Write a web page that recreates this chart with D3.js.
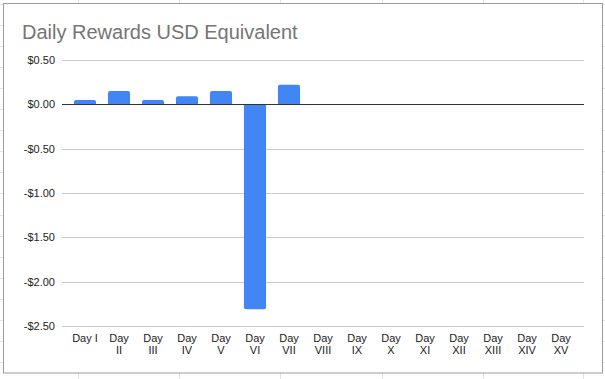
<!DOCTYPE html>
<html><head><meta charset="utf-8">
<script src="https://cdn.jsdelivr.net/npm/d3@7"></script>
<style>body{margin:0;background:#fff}svg{display:block}</style>
</head><body>
<svg id="c" width="605" height="379"></svg>
<script>
const categories = ["Day I","Day II","Day III","Day IV","Day V","Day VI","Day VII","Day VIII","Day IX","Day X","Day XI","Day XII","Day XIII","Day XIV","Day XV"];
const values = [0.05,0.15,0.05,0.09,0.15,-2.31,0.22,null,null,null,null,null,null,null,null];
const yTicks = [0.5,0,-0.5,-1,-1.5,-2,-2.5];
const title = "Daily Rewards USD Equivalent";

const svg = d3.select("#c");
const W = 605, H = 379;
const font = "'Liberation Sans', Arial, sans-serif";

// spreadsheet background grid
const sheetCols = [78,179,280,382,483,583];
const sheetRows = d3.range(4, 380, 21.05);
svg.append("g").selectAll("line.v").data(sheetCols).join("line")
  .attr("x1",d=>d+0.5).attr("x2",d=>d+0.5).attr("y1",0).attr("y2",H)
  .attr("stroke","#e2e2e2");
svg.append("g").selectAll("line.h").data(sheetRows).join("line")
  .attr("x1",0).attr("x2",W).attr("y1",d=>Math.round(d)+0.5).attr("y2",d=>Math.round(d)+0.5)
  .attr("stroke","#e2e2e2");

// chart frame
svg.append("rect").attr("x",3.5).attr("y",3.5).attr("width",599).attr("height",369.5)
  .attr("fill","#fff").attr("stroke","#9a9a9a");

svg.append("text").attr("x",22).attr("y",39).text(title)
  .attr("font-family",font).attr("font-size",20).attr("fill","#757575");

const x = d3.scaleBand().domain(categories).range([68,578]).paddingInner(0.35).paddingOuter(0.175);
const y = d3.scaleLinear().domain([-2.5,0.5]).range([326,60]);
const gx0 = 62, gx1 = 584;

// gridlines
svg.append("g").selectAll("line").data(yTicks.filter(d=>d!==0)).join("line")
  .attr("x1",gx0).attr("x2",gx1)
  .attr("y1",d=>Math.round(y(d))+0.5).attr("y2",d=>Math.round(y(d))+0.5)
  .attr("stroke","#cccccc");

// y labels
const fmt = d => (d<0?"-":"")+"$"+Math.abs(d).toFixed(2);
svg.append("g").selectAll("text").data(yTicks).join("text")
  .attr("x",55).attr("y",d=>y(d)+4).attr("text-anchor","end")
  .attr("font-family",font).attr("font-size",11).attr("fill","#222")
  .text(fmt);

// bars
const data = categories.map((c,i)=>({c, v: values[i]})).filter(d=>d.v!==null);
svg.append("g").selectAll("path").data(data).join("path")
  .attr("fill","#4285f4")
  .attr("d", d=>{
    const x0 = x(d.c), w = x.bandwidth();
    const y0 = y(0), y1 = y(d.v), r = 2;
    if (d.v >= 0) {
      return `M${x0},${y0}V${y1+r}Q${x0},${y1} ${x0+r},${y1}H${x0+w-r}Q${x0+w},${y1} ${x0+w},${y1+r}V${y0}Z`;
    } else {
      return `M${x0},${y0}V${y1-r}Q${x0},${y1} ${x0+r},${y1}H${x0+w-r}Q${x0+w},${y1} ${x0+w},${y1-r}V${y0}Z`;
    }
  });

// zero line
svg.append("line").attr("x1",gx0).attr("x2",gx1)
  .attr("y1",Math.round(y(0))+0.5).attr("y2",Math.round(y(0))+0.5)
  .attr("stroke","#333").attr("stroke-width",1);

// x labels
const xl = svg.append("g");
categories.forEach(c=>{
  const cx = x(c) + x.bandwidth()/2;
  const t = xl.append("text").attr("x",cx).attr("y",342).attr("text-anchor","middle")
    .attr("font-family",font).attr("font-size",11).attr("fill","#222").text(c);
  if (t.node().getComputedTextLength() > 27) {
    const parts = c.split(" ");
    t.text(null);
    parts.forEach((p,i)=>{
      t.append("tspan").attr("x",cx).attr("y",342 + i*12).text(p);
    });
  }
});
</script>
</body></html>
